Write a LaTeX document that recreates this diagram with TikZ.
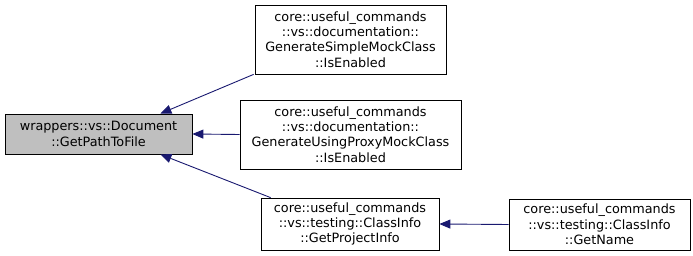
\documentclass[tikz,border=0pt]{standalone}
\usepackage{fontspec}
\setmainfont{DejaVu Sans}
\usetikzlibrary{arrows.meta}

\definecolor{edgeblue}{RGB}{25,25,112}
\definecolor{docgray}{RGB}{191,191,191}

\tikzset{every picture/.style={line width=0.75pt}}
\tikzset{
  fnbox/.style={draw=black, fill=white, align=center, inner sep=0pt,
    font=\fontsize{12.8}{15.3}\selectfont},
  callarrow/.style={draw=edgeblue, line width=0.9pt,
    -{Triangle[length=11pt,width=9pt]}, edgeblue}
}

\begin{document}
\begin{tikzpicture}[x=1pt,y=1pt,yscale=-1,xscale=1]
\useasboundingbox (0,0) rectangle (693,256);

% Function nodes
\node [fnbox, fill=docgray, minimum width=187pt, minimum height=40pt] (doc) at (98.5,134) {wrappers::vs::Document\\::GetPathToFile};
\node [fnbox, minimum width=191pt, minimum height=69pt] (simple) at (350.5,39.5) {core::useful\_commands\\::vs::documentation::\\GenerateSimpleMockClass\\::IsEnabled};
\node [fnbox, minimum width=221pt, minimum height=69pt] (proxy) at (350.5,134.5) {core::useful\_commands\\::vs::documentation::\\GenerateUsingProxyMockClass\\::IsEnabled};
\node [fnbox, minimum width=178pt, minimum height=52pt] (proj) at (350,224) {core::useful\_commands\\::vs::testing::ClassInfo\\::GetProjectInfo};
\node [fnbox, minimum width=181pt, minimum height=51pt] (name) at (599.5,224.5) {core::useful\_commands\\::vs::testing::ClassInfo\\::GetName};

% Callers
\draw [callarrow] ([xshift=-1pt]simple.south west) -- ([xshift=-32pt]doc.north east);
\draw [callarrow] (proxy.west) -- (doc.east);
\draw [callarrow] ([xshift=10pt]proj.north west) -- ([xshift=-32pt]doc.south east);
\draw [callarrow] (name.west) -- (proj.east);

\end{tikzpicture}
\end{document}
